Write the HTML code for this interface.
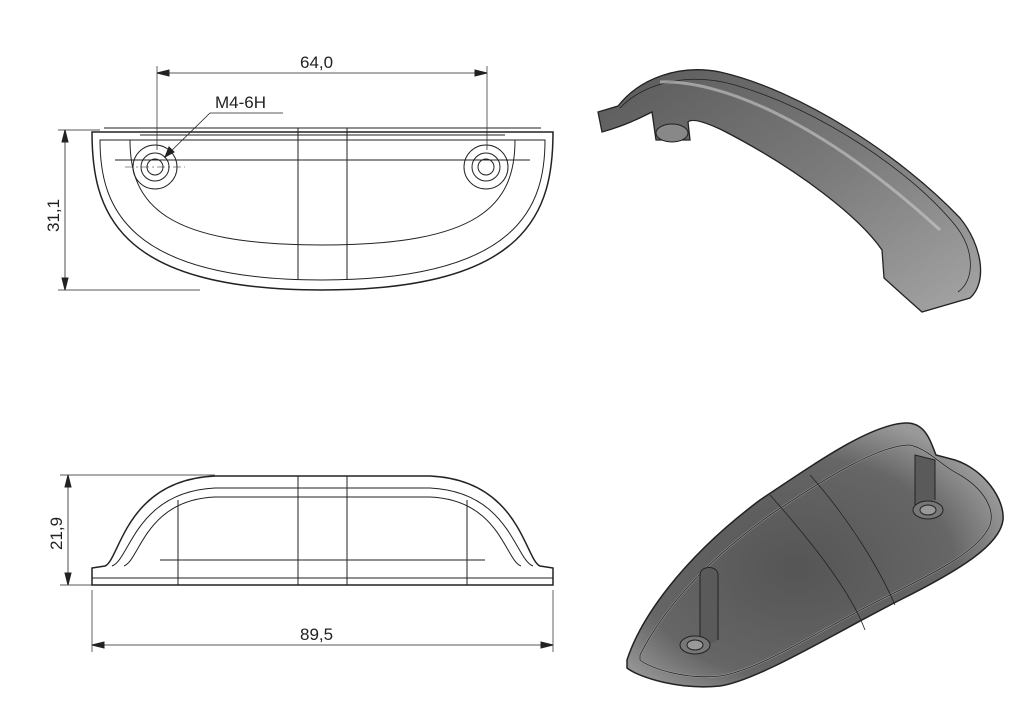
<!DOCTYPE html>
<html><head><meta charset="utf-8"><style>
html,body{margin:0;padding:0;background:#fff;}
svg{display:block;}
text{font-family:"Liberation Sans",sans-serif;font-size:17px;fill:#222;}
</style></head><body>
<svg width="1024" height="725" viewBox="0 0 1024 725" xmlns="http://www.w3.org/2000/svg">
<defs>
<linearGradient id="g1" x1="0" y1="0" x2="1" y2="1">
<stop offset="0" stop-color="#5a5a5a"/><stop offset="0.5" stop-color="#7a7a7a"/><stop offset="1" stop-color="#a5a5a5"/></linearGradient>
<radialGradient id="g2" cx="0.45" cy="0.55" r="0.6">
<stop offset="0" stop-color="#555"/><stop offset="0.7" stop-color="#666"/><stop offset="1" stop-color="#999"/></radialGradient>
</defs>
<g fill="none" stroke="#222" stroke-width="1">
<path d="M92,132 L553,132 C553,210 530,290 322,290 C115,290 92,210 92,132 Z" stroke-width="1.5"/>
<path d="M100,140 L545,140 C545,205 520,280 322,280 C125,280 100,205 100,140 Z"/>
<path d="M104,128 L541,128" />
<path d="M130,140 C130,205 165,245 322,245 C480,245 515,205 515,140"/>
<path d="M140,135 L505,135 M115,160 L530,160"/>
<line x1="298" y1="128" x2="298" y2="280"/><line x1="347" y1="128" x2="347" y2="280"/>
<circle cx="155" cy="167" r="22"/><circle cx="155" cy="167" r="14"/><circle cx="155" cy="167" r="8"/>
<circle cx="486" cy="167" r="22"/><circle cx="486" cy="167" r="14"/><circle cx="486" cy="167" r="8"/>
<line x1="125" y1="167" x2="185" y2="167" stroke-dasharray="8,3,2,3" stroke-width="0.6"/>
<line x1="157" y1="66" x2="157" y2="150" stroke-width="0.7"/><line x1="487" y1="66" x2="487" y2="150" stroke-width="0.7"/>
<line x1="157" y1="73" x2="487" y2="73" stroke-width="0.8"/>
<path d="M157,73 l12,-3 v6 z M487,73 l-12,-3 v6 z" fill="#222"/>
<path d="M283,113 L210,113 L165,157" stroke-width="0.8"/>
<path d="M165,157 l4,-10 l5,5 z" fill="#222"/>
<line x1="58" y1="130" x2="100" y2="130" stroke-width="0.7"/><line x1="58" y1="290" x2="200" y2="290" stroke-width="0.7"/>
<line x1="65" y1="130" x2="65" y2="290" stroke-width="0.8"/>
<path d="M65,130 l-3,12 h6 z M65,290 l-3,-12 h6 z" fill="#222"/>
<path d="M92,585 L553,585 L553,568 L540,566 C525,560 520,480 430,476 L215,476 C125,480 120,560 105,566 L92,568 Z" stroke-width="1.5"/>
<path d="M112,566 C130,560 135,492 215,488 L430,488 C510,492 515,560 533,566"/>
<path d="M124,566 C140,560 145,500 215,497 L430,497 C500,500 505,560 521,566"/>
<path d="M92,578 L553,578 M160,560 L485,560"/>
<line x1="178" y1="500" x2="178" y2="585"/><line x1="467" y1="500" x2="467" y2="585"/>
<line x1="298" y1="476" x2="298" y2="585"/><line x1="347" y1="476" x2="347" y2="585"/>
<line x1="60" y1="475" x2="215" y2="475" stroke-width="0.7"/><line x1="60" y1="585" x2="92" y2="585" stroke-width="0.7"/>
<line x1="68" y1="475" x2="68" y2="585" stroke-width="0.8"/>
<path d="M68,475 l-3,12 h6 z M68,585 l-3,-12 h6 z" fill="#222"/>
<line x1="92" y1="590" x2="92" y2="652" stroke-width="0.7"/><line x1="553" y1="590" x2="553" y2="652" stroke-width="0.7"/>
<line x1="92" y1="645" x2="553" y2="645" stroke-width="0.8"/>
<path d="M92,645 l12,-3 v6 z M553,645 l-12,-3 v6 z" fill="#222"/>
</g>
<text x="300" y="68">64,0</text>
<text x="215" y="108">M4-6H</text>
<text x="300" y="640">89,5</text>
<text transform="translate(59,232) rotate(-90)">31,1</text>
<text transform="translate(62,550) rotate(-90)">21,9</text>

<path d="M598,112 L618,106 C640,78 680,64 720,72 C800,90 900,155 960,218 C982,245 988,282 970,298 L922,312 L904,296 L884,278 L882,250 C860,218 800,170 722,130 C705,122 692,118 688,122 L690,140 L656,140 L652,112 C640,118 624,126 602,132 Z" fill="url(#g1)" stroke="#222" stroke-width="1.3"/>
<path d="M620,108 C645,82 690,72 735,85 C820,110 910,170 955,225 C975,250 975,280 958,292" fill="none" stroke="#222" stroke-width="0.8"/>
<path d="M660,82 C720,80 820,120 940,230" fill="none" stroke="#ccc" stroke-width="3" opacity="0.6"/>
<ellipse cx="672" cy="133" rx="16" ry="9" fill="#888" stroke="#222"/>

<path d="M627,660 C640,620 680,560 760,500 C820,460 870,425 905,423 C925,422 930,440 936,455 L955,460 C985,470 1005,500 1003,520 C1000,545 960,570 900,600 C840,630 760,680 720,686 C680,690 640,678 627,668 Z" fill="url(#g2)" stroke="#222" stroke-width="1.5"/>
<path d="M640,655 C660,615 700,565 770,515 C830,475 880,445 910,445 C930,450 940,465 960,475 C985,490 995,510 990,525 C980,550 940,570 880,600 C820,630 760,670 720,676 C685,680 650,668 640,660 Z" fill="none" stroke="#999" stroke-width="2"/>
<path d="M640,655 C660,615 700,565 770,515 C830,475 880,445 910,445 C930,450 940,465 960,475 C985,490 995,510 990,525 C980,550 940,570 880,600 C820,630 760,670 720,676 C685,680 650,668 640,660 Z" fill="none" stroke="#222" stroke-width="0.8"/>
<path d="M700,650 L700,575 C700,565 718,565 718,575 L718,640" fill="#5a5a5a" stroke="#222"/>
<path d="M915,505 L915,455 L935,460 L935,500" fill="#5a5a5a" stroke="#222"/>
<ellipse cx="695" cy="645" rx="15" ry="9" fill="#777" stroke="#222"/><ellipse cx="695" cy="645" rx="8" ry="5" fill="#999" stroke="#222"/>
<ellipse cx="928" cy="510" rx="15" ry="9" fill="#777" stroke="#222"/><ellipse cx="928" cy="510" rx="8" ry="5" fill="#999" stroke="#222"/>
<path d="M770,495 C810,540 850,590 865,630 M810,475 C850,520 880,570 895,605" fill="none" stroke="#222" stroke-width="0.8"/>
</svg>
</body></html>
